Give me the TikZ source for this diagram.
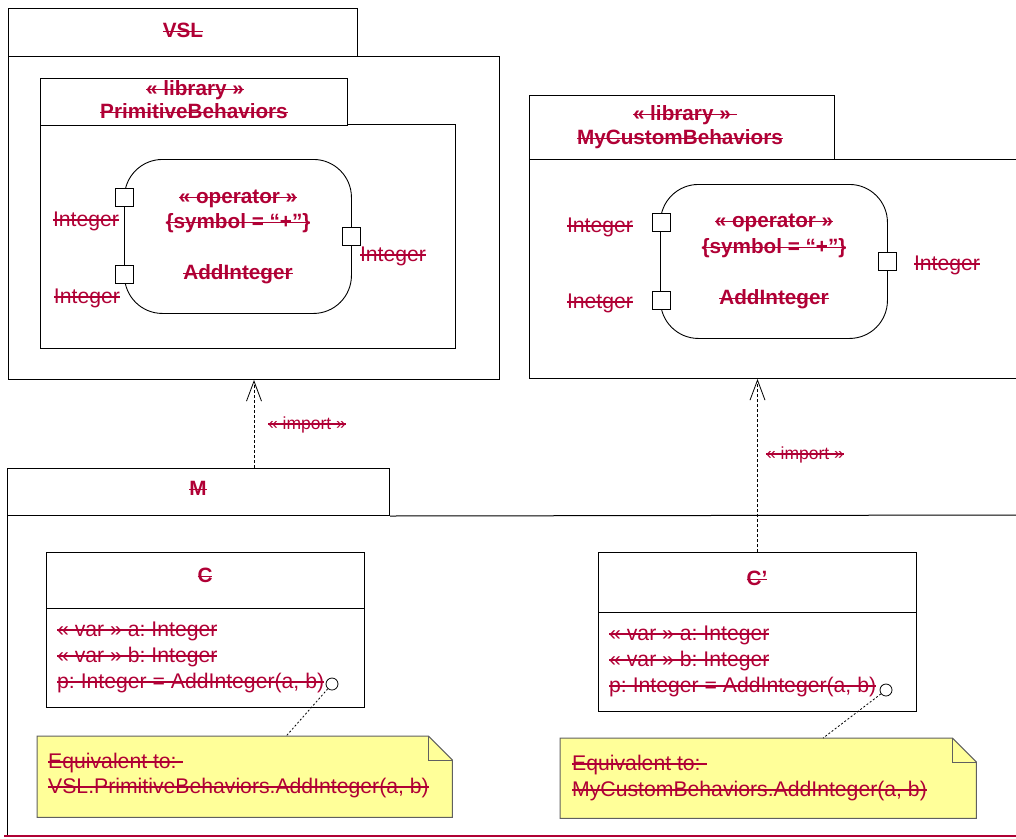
\documentclass[tikz,border=0pt]{standalone}
\usepackage{fontspec}
\setmainfont{Liberation Sans}
\usetikzlibrary{arrows.meta,calc}
\frenchspacing
\newsavebox{\skbox}
\newcommand{\sk}[1]{\leavevmode\sbox{\skbox}{#1}\rlap{\usebox{\skbox}}\rule[0.27em]{\wd\skbox}{1.2pt}}
\newcommand{\skt}[1]{\leavevmode\sbox{\skbox}{#1\hspace{0.3em}}\rlap{\usebox{\skbox}}\rule[0.27em]{\wd\skbox}{1.2pt}}
\definecolor{crim}{HTML}{B00035}
\definecolor{noteyel}{HTML}{FFFF99}
\definecolor{notegray}{HTML}{606060}
\tikzset{
  umlbox/.style={draw=black, line width=1pt, inner sep=0, anchor=north west},
  opbox/.style={draw=black, line width=0.9pt, inner sep=0, anchor=north west, rounded corners=38pt},
  portbox/.style={draw=black, fill=white, line width=0.9pt, inner sep=0, minimum size=18pt},
  txt/.style={text=crim, inner sep=0, text height=1.1em, text depth=0.02em, font=\fontsize{21.2}{24}\selectfont},
  btxt/.style={txt, font=\fontsize{20.7}{24}\selectfont\bfseries},
  smalltxt/.style={txt, font=\fontsize{17.5}{20}\selectfont},
  importln/.style={line width=0.8pt, dash pattern=on 3pt off 2pt, -{Straight Barb[length=20pt,width=15pt]}},
  noteln/.style={line width=0.8pt, dash pattern=on 2pt off 2pt},
  notebody/.style={draw=notegray, fill=noteyel, line width=1pt},
  pin/.style={draw=black, circle, fill=white, minimum size=12pt, inner sep=0, line width=0.8pt}
}
\begin{document}
\begin{tikzpicture}[x=1pt,y=-1pt]
\useasboundingbox (0,0) rectangle (1016,838);

% ---------------- VSL package ----------------
\node[umlbox, minimum width=491pt, minimum height=323pt] (vslBody) at (8,56) {};
\node[umlbox, fill=white, minimum width=349pt, minimum height=48pt] (vslTab) at (8,8) {};
\node[btxt] (vslLbl) at (183,32) {\sk{VSL}};

% PrimitiveBehaviors
\node[umlbox, minimum width=415pt, minimum height=224pt] (pbBody) at (40,124) {};
\node[umlbox, fill=white, minimum width=307pt, minimum height=47pt] (pbTab) at (40,78) {};
\node[btxt] (pbSt) at (195,90) {\sk{« library »}};
\node[btxt] (pbLbl) at (194,113) {\sk{PrimitiveBehaviors}};

% operator left
\node[opbox, minimum width=227pt, minimum height=154pt] (opL) at (124,159) {};
\node[portbox] (opLp1) at (124,197) {};
\node[portbox] (opLp2) at (124,274) {};
\node[portbox] (opLp3) at (351,236) {};
\node[btxt] (opLst) at (238,198) {\sk{« operator »}};
\node[btxt] (opLsym) at (238,223) {\sk{\{symbol = “+”\}}};
\node[btxt] (opLname) at (238,274) {\sk{AddInteger}};
\node[txt] (opLt1) at (86,221) {\sk{Integer}};
\node[txt] (opLt2) at (87,298) {\sk{Integer}};
\node[txt] (opLt3) at (393,256) {\sk{Integer}};

% ---------------- MyCustomBehaviors ----------------
\node[umlbox, minimum width=500pt, minimum height=219pt] (mcBody) at (529,159) {};
\node[umlbox, fill=white, minimum width=305pt, minimum height=64pt] (mcTab) at (529,95) {};
\node[btxt] (mcSt) at (685,115) {\skt{« library »}};
\node[btxt] (mcLbl) at (680,139) {\sk{MyCustomBehaviors}};

\node[opbox, minimum width=227pt, minimum height=154pt] (opR) at (660,184) {};
\node[portbox] (opRp1) at (661,222) {};
\node[portbox] (opRp2) at (661,300) {};
\node[portbox] (opRp3) at (887,261) {};
\node[btxt] (opRst) at (774,222) {\sk{« operator »}};
\node[btxt] (opRsym) at (774,248) {\sk{\{symbol = “+”\}}};
\node[btxt] (opRname) at (774,299) {\sk{AddInteger}};
\node[txt] (opRt1) at (600,227) {\sk{Integer}};
\node[txt] (opRt2) at (600,303) {\sk{Inetger}};
\node[txt] (opRt3) at (947,265) {\sk{Integer}};

% ---------------- M package ----------------
\node[umlbox, minimum width=382pt, minimum height=47pt] (mTab) at (7,468) {};
\node[btxt] (mLbl) at (198,490) {\sk{M}};
\draw[line width=1pt] (mTab.south east) -- (1020,515);
\draw[line width=1pt] (mTab.south west) -- (7,836);
\draw[crim, line width=2pt] (4,836) -- (1020,836);

% class C
\node[umlbox, minimum width=318pt, minimum height=155pt] (cls1) at (46,552) {};
\draw[line width=1pt] (46,608) -- (364,608);
\node[btxt] (cls1n) at (205,577) {\sk{C}};
\node[txt, anchor=west] (cls1a) at (57,631) {\sk{« var » a: Integer}};
\node[txt, anchor=west] (cls1b) at (57,657) {\sk{« var » b: Integer}};
\node[txt, anchor=west] (cls1p) at (57,683) {\sk{p: Integer = AddInteger(a, b)}};
\node[pin] (pin1) at (332,684) {};

% class C'
\node[umlbox, minimum width=318pt, minimum height=159pt] (cls2) at (598,552) {};
\draw[line width=1pt] (598,612) -- (916,612);
\node[btxt] (cls2n) at (757,580) {\sk{C’}};
\node[txt, anchor=west] (cls2a) at (609,635) {\sk{« var » a: Integer}};
\node[txt, anchor=west] (cls2b) at (609,661) {\sk{« var » b: Integer}};
\node[txt, anchor=west] (cls2p) at (609,687) {\sk{p: Integer = AddInteger(a, b)}};
\node[pin] (pin2) at (886,690) {};

% notes
\node[inner sep=0, anchor=north west, minimum width=415pt, minimum height=81pt] (note1) at (37,736) {};
\draw[notebody] (note1.north west) -- ([xshift=-24pt]note1.north east) -- ([yshift=-24pt]note1.north east) -- (note1.south east) -- (note1.south west) -- cycle;
\draw[notegray, line width=1pt] ([xshift=-24pt]note1.north east) -- ([xshift=-24pt,yshift=-24pt]note1.north east) -- ([yshift=-24pt]note1.north east);
\node[txt, anchor=west] (note1a) at (48,763) {\skt{Equivalent to:}};
\node[txt, anchor=west] (note1b) at (48,788) {\sk{VSL.PrimitiveBehaviors.AddInteger(a, b)}};

\node[inner sep=0, anchor=north west, minimum width=416pt, minimum height=80pt] (note2) at (560,738) {};
\draw[notebody] (note2.north west) -- ([xshift=-24pt]note2.north east) -- ([yshift=-24pt]note2.north east) -- (note2.south east) -- (note2.south west) -- cycle;
\draw[notegray, line width=1pt] ([xshift=-24pt]note2.north east) -- ([xshift=-24pt,yshift=-24pt]note2.north east) -- ([yshift=-24pt]note2.north east);
\node[txt, anchor=west] (note2a) at (572,765) {\skt{Equivalent to:}};
\node[txt, anchor=west] (note2b) at (572,791) {\sk{MyCustomBehaviors.AddInteger(a, b)}};

% connectors
\draw[noteln] (pin1) -- ($(note1.north west)!0.60!(note1.north east)$);
\draw[noteln] (pin2) -- ($(note2.north west)!0.632!(note2.north east)$);
\draw[importln] (vslBody.south |- mTab.north) -- (vslBody.south);
\draw[importln] (cls2.north) -- (cls2.north |- mcBody.south);
\node[smalltxt] (imp1) at (307,424) {\sk{« import »}};
\node[smalltxt] (imp2) at (805,454) {\sk{« import »}};
\end{tikzpicture}
\end{document}
